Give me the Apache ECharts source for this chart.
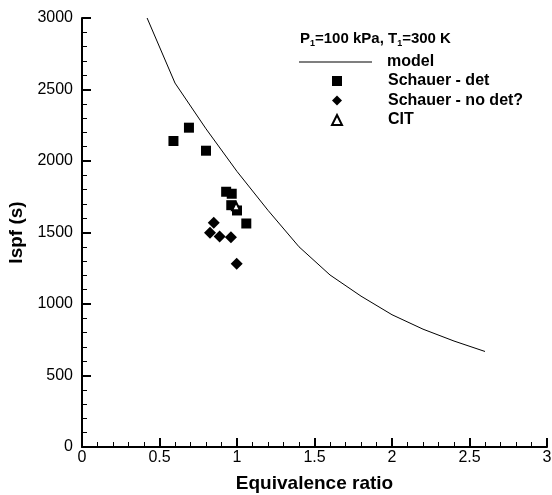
<!DOCTYPE html>
<html>
<head>
<meta charset="utf-8">
<script src="https://cdn.jsdelivr.net/npm/echarts@6/dist/echarts.min.js"></script>
<style>
  html, body { margin: 0; padding: 0; background: #fff; }
  #chart { width: 552px; height: 495px; }
</style>
</head>
<body>
<div id="chart"></div>
<script>
// model curve (equivalence ratio, Ispf)
var modelData = [[0.42, 3000], [0.6, 2545], [0.8, 2225], [1.0, 1927], [1.2, 1655], [1.4, 1400],
    [1.6, 1203], [1.8, 1055], [2.0, 925], [2.2, 824], [2.4, 741], [2.6, 668]];
// Schauer - det
var detData = [[0.59, 2140], [0.69, 2233], [0.80, 2072], [0.93, 1785], [0.966, 1771],
    [0.963, 1691], [1.0, 1654], [1.06, 1563]];
// Schauer - no det?
var noDetData = [[0.85, 1568], [0.826, 1498], [0.888, 1472], [0.961, 1467], [0.998, 1282]];
// CIT
var citData = [[0.994, 1684]];

var font = 'Liberation Sans, Arial, sans-serif';
var myChart = echarts.init(document.getElementById('chart'));

var legendText = {fontFamily: font, fontSize: 16, fontWeight: 'bold', color: '#000'};

var option = {
    backgroundColor: '#fff',
    animation: false,
    textStyle: {fontFamily: font},
    grid: {left: 82, right: 5, top: 18, bottom: 48, outerBoundsMode: 'none', containLabel: false},
    title: {
        left: 300,
        top: 30,
        padding: 0,
        text: '{b|P}{s|1}{b|=100 kPa, T}{s|1}{b|=300 K}',
        textStyle: {
            rich: {
                b: {fontFamily: font, fontSize: 15, fontWeight: 'bold', color: '#000', lineHeight: 18},
                s: {fontFamily: font, fontSize: 9, fontWeight: 'bold', color: '#000', lineHeight: 18, padding: [9, 0, 0, 0]}
            }
        }
    },
    legend: [
        {
            orient: 'vertical',
            left: 299,
            top: 54,
            itemWidth: 73,
            itemHeight: 1,
            padding: 0,
            textStyle: Object.assign({padding: [0, 0, 0, 10]}, legendText),
            data: [{name: 'model', icon: 'rect'}]
        },
        {
            orient: 'vertical',
            left: 331,
            top: 73,
            itemWidth: 10,
            itemHeight: 10,
            itemGap: 3.5,
            padding: 0,
            textStyle: Object.assign({padding: [0, 0, 0, 41]}, legendText),
            data: ['Schauer - det', 'Schauer - no det?', 'CIT']
        }
    ],
    xAxis: {
        type: 'value',
        min: 0, max: 3, interval: 0.5,
        name: 'Equivalence ratio',
        nameLocation: 'middle',
        nameGap: 27,
        nameTextStyle: {fontFamily: font, fontSize: 19, fontWeight: 'bold', color: '#000'},
        axisLine: {lineStyle: {color: '#000', width: 2}},
        axisTick: {inside: true, length: 9, lineStyle: {color: '#000', width: 2}},
        minorTick: {show: true, splitNumber: 5, length: 5, lineStyle: {color: '#000', width: 1}},
        axisLabel: {fontFamily: font, fontSize: 16, color: '#000', margin: 3},
        splitLine: {show: false}
    },
    yAxis: {
        type: 'value',
        min: 0, max: 3000, interval: 500,
        name: 'Ispf (s)',
        nameLocation: 'middle',
        nameGap: 52,
        nameTextStyle: {fontFamily: font, fontSize: 19, fontWeight: 'bold', color: '#000'},
        axisLine: {show: true, lineStyle: {color: '#000', width: 2}},
        axisTick: {show: true, inside: true, length: 9, lineStyle: {color: '#000', width: 2}},
        minorTick: {show: true, splitNumber: 5, length: 5, lineStyle: {color: '#000', width: 1}},
        axisLabel: {
            fontFamily: font, fontSize: 16, color: '#000', margin: 9,
            formatter: function (v) { return String(v); }
        },
        splitLine: {show: false}
    },
    series: [
        {
            name: 'model',
            type: 'line',
            data: modelData,
            symbol: 'none',
            lineStyle: {color: '#000', width: 1},
            itemStyle: {color: '#000'}
        },
        {
            name: 'Schauer - det',
            type: 'scatter',
            data: detData,
            symbol: 'rect',
            symbolSize: 10,
            itemStyle: {color: '#000', opacity: 1}
        },
        {
            name: 'Schauer - no det?',
            type: 'scatter',
            data: noDetData,
            symbol: 'diamond',
            symbolSize: 12,
            itemStyle: {color: '#000', opacity: 1}
        },
        {
            name: 'CIT',
            type: 'scatter',
            data: citData,
            symbol: 'emptyTriangle',
            symbolSize: 8,
            itemStyle: {color: '#000', borderColor: '#000', borderWidth: 1, opacity: 1}
        }
    ]
};
myChart.setOption(option);
</script>
</body>
</html>
